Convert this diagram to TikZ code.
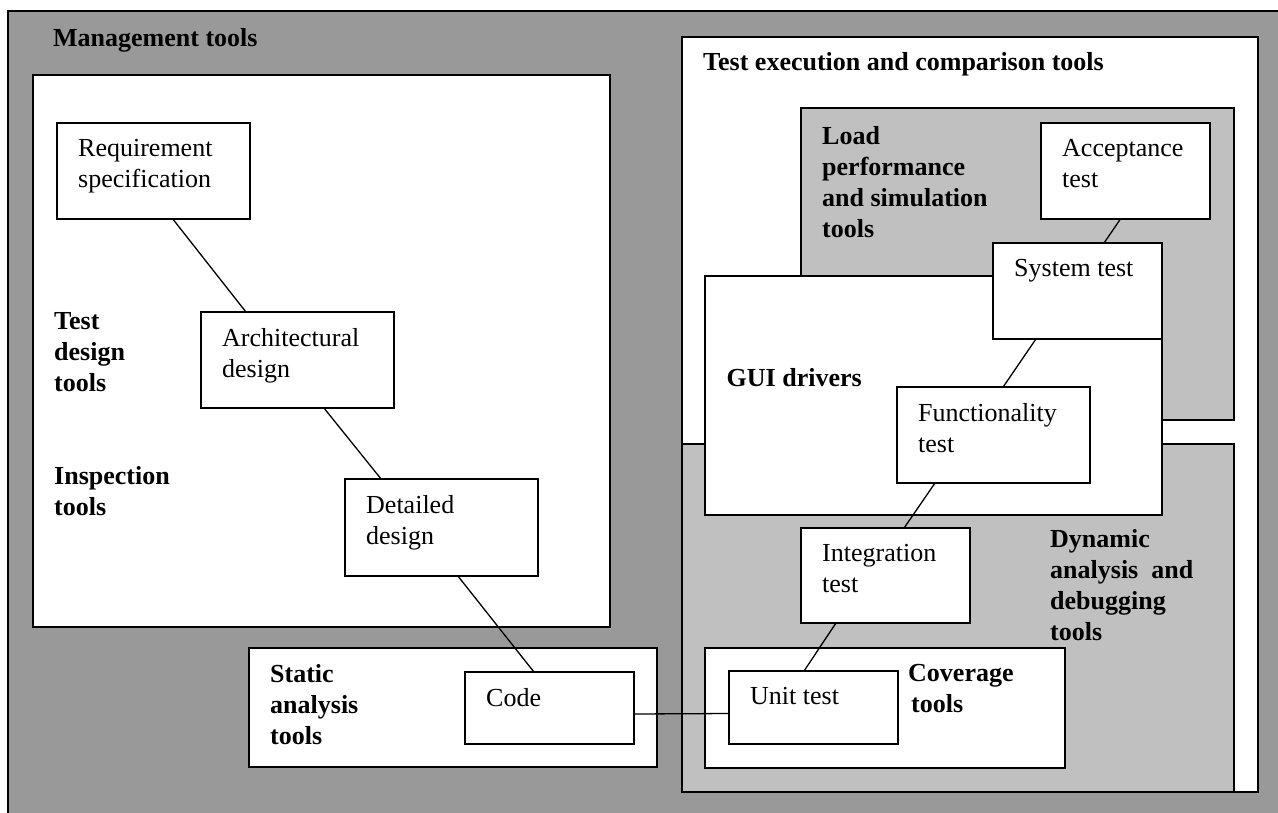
\documentclass[tikz,border=0pt]{standalone}
\usepackage{fontspec}
\setmainfont{Liberation Serif}
\usetikzlibrary{positioning,calc}
\definecolor{outergray}{RGB}{153,153,153}
\definecolor{innergray}{RGB}{192,192,192}

\begin{document}
\begin{tikzpicture}[
    x=1pt, y=-1pt,
    region/.style={draw, line width=1.6pt, anchor=north west, inner sep=0pt, outer sep=0pt},
    stage/.style={region, fill=white},
    title/.style={anchor=north west, inner sep=0pt, align=left, font=\fontsize{26}{31}\selectfont\bfseries},
    caption/.style={anchor=north west, inner sep=0pt, align=left, font=\fontsize{26}{31}\selectfont},
    link/.style={line width=1.3pt}
]
\useasboundingbox (0,0) rectangle (1278,812);
\clip (0,0) rectangle (1278,812);

% Tool areas
\node[region, fill=outergray, minimum width=1290, minimum height=820] (frame) at (8,11) {};
\node[stage, minimum width=577, minimum height=552] (mgmt) at (33,75) {};
\node[stage, minimum width=408, minimum height=119] (static) at (249,648) {};
\node[stage, minimum width=576, minimum height=755] (exec) at (682,37) {};
\node[region, fill=innergray, minimum width=433, minimum height=312] (load) at (801,108) {};
\node[region, fill=innergray, minimum width=552, minimum height=348] (dynamic) at (682,444) {};
\node[stage, minimum width=457, minimum height=239] (gui) at (705,276) {};
\node[stage, minimum width=360, minimum height=120] (coverage) at (705,648) {};

% Area labels
\node[title, below right=17.5pt and 45pt of frame.north west] (mgmtlbl) {Management tools};
\node[title, below right=15.5pt and 21pt of exec.north west] (execlbl) {Test execution and comparison tools};
\node[title, below right=18.5pt and 21pt of load.north west] (loadlbl) {Load\\performance\\and simulation\\tools};
\node[title] (guilbl) at (726.5,368.5) {GUI drivers};
\node[title] (dynlbl) at (1050,529.5) {Dynamic\\analysis~ and\\debugging\\tools};
\node[title] (covlbl) at (908,664.5) {Coverage\\\hspace*{3pt}tools};
\node[title, below right=16.5pt and 21pt of static.north west] (staticlbl) {Static\\analysis\\tools};
\node[title] (designlbl) at (54,312.5) {Test\\design\\tools};
\node[title] (inspectlbl) at (54,466.5) {Inspection\\tools};

% V-model stages
\node[stage, minimum width=193, minimum height=96] (req) at (57,123) {};
\node[stage, minimum width=193, minimum height=96] (arch) at (201,312) {};
\node[stage, minimum width=193, minimum height=97] (detail) at (345,479) {};
\node[stage, minimum width=169, minimum height=72] (code) at (465,672) {};
\node[stage, minimum width=169, minimum height=96] (accept) at (1041,123) {};
\node[stage, minimum width=169, minimum height=96] (system) at (993,243) {};
\node[stage, minimum width=193, minimum height=96] (func) at (897,387) {};
\node[stage, minimum width=169, minimum height=95] (integ) at (801,528) {};
\node[stage, minimum width=169, minimum height=73] (unit) at (729,671) {};

\node[caption, below right=16.5pt and 21pt of req.north west] (reqtxt) {Requirement\\specification};
\node[caption, below right=16.5pt and 21pt of arch.north west] (archtxt) {Architectural\\design};
\node[caption, below right=16.5pt and 21pt of detail.north west] (detailtxt) {Detailed\\design};
\node[caption, below right=16.5pt and 21pt of code.north west] (codetxt) {Code};
\node[caption, below right=16.5pt and 21pt of accept.north west] (accepttxt) {Acceptance\\test};
\node[caption, below right=16.5pt and 21pt of system.north west] (systemtxt) {System test};
\node[caption, below right=16.5pt and 21pt of func.north west] (functxt) {Functionality\\test};
\node[caption, below right=16.5pt and 21pt of integ.north west] (integtxt) {Integration\\test};
\node[caption, below right=16.5pt and 21pt of unit.north west] (unittxt) {Unit test};

% Links
\foreach \source/\a/\dest/\b in {req/0.6/arch/0.233, arch/0.637/detail/0.187, detail/0.585/code/0.408,
    accept/0.47/system/0.657, system/0.254/func/0.55, func/0.197/integ/0.61, integ/0.207/unit/0.444} {
    \draw[link] ($(\source.south west)!\a!(\source.south east)$) -- ($(\dest.north west)!\b!(\dest.north east)$);
}
\draw[link] ([yshift=-6pt]code.east) -- ([yshift=-6pt]unit.west);

\end{tikzpicture}
\end{document}
